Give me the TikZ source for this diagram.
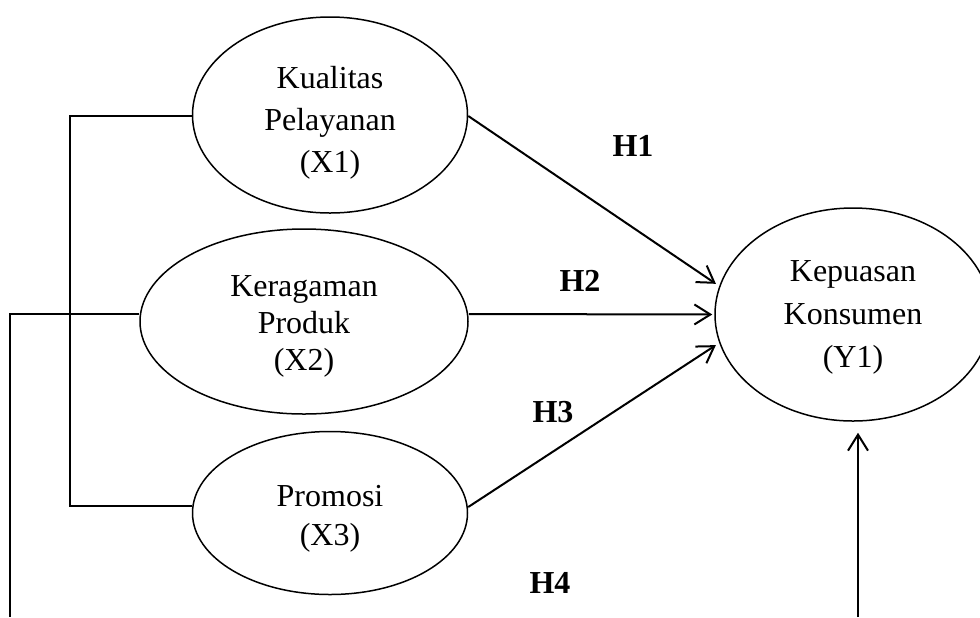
\documentclass[tikz,border=0pt]{standalone}
\usepackage{fontspec}
\setmainfont{Liberation Serif}
\usetikzlibrary{shapes.geometric,arrows.meta}
\begin{document}
\begin{tikzpicture}[x=0.5pt,y=-0.5pt,
  var/.style={draw,ellipse,line width=0.75pt,inner sep=0pt},
  txt/.style={inner sep=0pt,align=center},
  link/.style={line width=0.75pt},
  path/.style={line width=1pt,-{Straight Barb[length=8pt,width=10pt]}},
  hyp/.style={font=\fontsize{16}{19}\selectfont\bfseries}]
\useasboundingbox (0,0) rectangle (980,617);
\node[var,minimum width=137.5pt,minimum height=98pt] (x1) at (330,115) {};
\node[var,minimum width=164pt,minimum height=92.5pt] (x2) at (304,321.5) {};
\node[var,minimum width=137.5pt,minimum height=81.5pt] (x3) at (330,513) {};
\node[var,minimum width=138pt,minimum height=106.5pt] (y1) at (853,314.5) {};
\node[txt,font=\fontsize{16}{21}\selectfont] (t1) at (330,123) {Kualitas\\Pelayanan\\(X1)};
\node[txt,font=\fontsize{16}{18.65}\selectfont] (t2) at (304,326.5) {Keragaman\\Produk\\(X2)};
\node[txt,font=\fontsize{16}{19.65}\selectfont] (t3) at (330,519) {Promosi\\(X3)};
\node[txt,font=\fontsize{16}{21.5}\selectfont] (t4) at (853,317.5) {Kepuasan\\Konsumen\\(Y1)};
\coordinate (lb) at (10,617);
\coordinate (rb) at (858,617);
\coordinate (lv) at (70,116);
\draw[link] ([yshift=-0.5pt]x1.west) -- (lv) |- ([yshift=3.5pt]x3.west);
\draw[link] ([yshift=3.75pt]x2.west) -| (lb);
\draw[path,shorten >=2pt] ([yshift=-0.5pt]x1.east) -- (y1.168);
\draw[path,shorten >=1pt] ([yshift=3.75pt]x2.east) -- (y1.west);
\draw[path,shorten >=2pt] ([yshift=3pt]x3.east) -- (y1.192);
\draw[path,shorten >=5.5pt] (rb) -- (y1.south -| rb);
\node[hyp] (h1) at (633,146) {H1};
\node[hyp] (h2) at (580,281) {H2};
\node[hyp] (h3) at (553,412) {H3};
\node[hyp] (h4) at (550,583) {H4};
\end{tikzpicture}
\end{document}
